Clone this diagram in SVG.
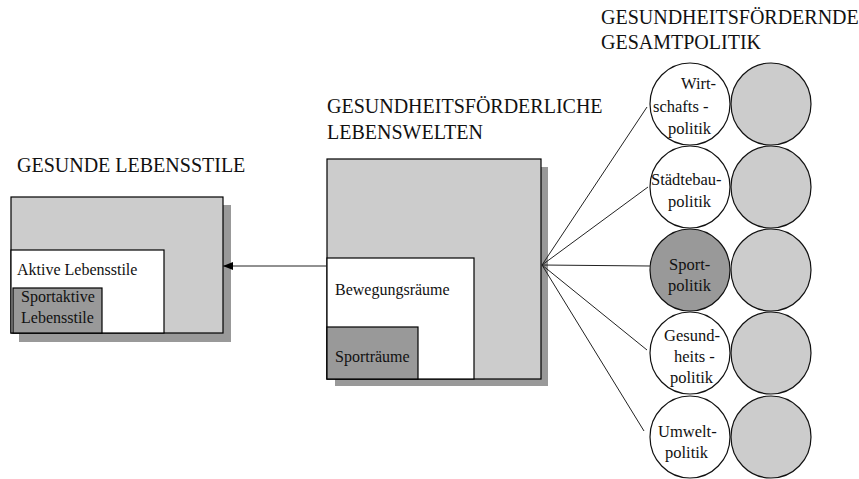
<svg xmlns="http://www.w3.org/2000/svg" width="859" height="479" viewBox="0 0 859 479" font-family="'Liberation Serif', serif">
  <defs>
    <style>
      .title { font-size: 20px; fill: #111; }
      .lbl { font-size: 16px; fill: #111; }
      .clbl { font-size: 16.5px; fill: #111; }
      .outer { fill: #cccccc; stroke: #000; stroke-width: 1.2; }
      .shadow { fill: #999999; }
      .inner { fill: #ffffff; stroke: #000; stroke-width: 1.2; }
      .dark { fill: #999999; stroke: #000; stroke-width: 1.2; }
      .circ { fill: #ffffff; stroke: #111; stroke-width: 1.2; }
      .circ-g { fill: #cccccc; stroke: #111; stroke-width: 1.2; }
      .circ-d { fill: #999999; stroke: #111; stroke-width: 1.2; }
      .link { stroke: #222; stroke-width: 1; fill: none; }
    </style>
    <marker id="arrow" viewBox="0 0 10 8" refX="10" refY="4" markerWidth="10" markerHeight="8" markerUnits="userSpaceOnUse" orient="auto">
      <path d="M0,0 L10,4 L0,8 Z" fill="#000"/>
    </marker>
  </defs>

  <!-- Healthy lifestyles -->
  <g id="lebensstile">
    <text class="title" x="17" y="172">GESUNDE LEBENSSTILE</text>
    <rect class="shadow" x="19" y="205" width="212" height="137"/>
    <rect class="outer" x="11" y="197" width="212" height="136"/>
    <rect class="inner" x="11" y="250" width="153" height="83"/>
    <text class="lbl" x="17" y="275">Aktive Lebensstile</text>
    <rect class="dark" x="13" y="288" width="89" height="45"/>
    <text class="lbl" x="21" y="302">Sportaktive</text>
    <text class="lbl" x="21" y="323">Lebensstile</text>
  </g>

  <!-- Health-promoting living environments -->
  <g id="lebenswelten">
    <text class="title" x="327" y="113">GESUNDHEITSFÖRDERLICHE</text>
    <text class="title" x="327" y="139">LEBENSWELTEN</text>
    <rect class="shadow" x="335" y="167" width="213" height="219"/>
    <rect class="outer" x="327" y="159" width="214" height="220"/>
    <rect class="inner" x="327" y="258" width="147" height="121"/>
    <text class="lbl" x="335" y="295">Bewegungsräume</text>
    <rect class="dark" x="327" y="327" width="91" height="52"/>
    <text class="lbl" x="335" y="362">Sporträume</text>
  </g>

  <!-- Overall health-promoting policy -->
  <g id="gesamtpolitik">
    <text class="title" x="601" y="24">GESUNDHEITSFÖRDERNDE</text>
    <text class="title" x="601" y="49">GESAMTPOLITIK</text>
  </g>

  <g id="wirtschaft">
    <ellipse class="circ" cx="690" cy="104" rx="40" ry="41"/>
    <ellipse class="circ-g" cx="771" cy="104" rx="40" ry="41"/>
    <text class="clbl" x="681" y="89">Wirt-</text>
    <text class="clbl" x="653" y="112">schafts -</text>
    <text class="clbl" x="668" y="134">politik</text>
  </g>

  <g id="staedtebau">
    <ellipse class="circ" cx="690" cy="187" rx="40" ry="41"/>
    <ellipse class="circ-g" cx="771" cy="187" rx="40" ry="41"/>
    <text class="clbl" x="651" y="185">Städtebau-</text>
    <text class="clbl" x="668" y="207">politik</text>
  </g>

  <g id="sport">
    <ellipse class="circ-d" cx="690" cy="270" rx="40" ry="41"/>
    <ellipse class="circ-g" cx="771" cy="270" rx="40" ry="41"/>
    <text class="clbl" x="669" y="270">Sport-</text>
    <text class="clbl" x="668" y="291">politik</text>
  </g>

  <g id="gesundheit">
    <ellipse class="circ" cx="690" cy="353" rx="40" ry="41"/>
    <ellipse class="circ-g" cx="771" cy="353" rx="40" ry="41"/>
    <text class="clbl" x="664" y="341">Gesund-</text>
    <text class="clbl" x="674" y="362">heits -</text>
    <text class="clbl" x="670" y="383">politik</text>
  </g>

  <g id="umwelt">
    <ellipse class="circ" cx="690" cy="437" rx="40" ry="41"/>
    <ellipse class="circ-g" cx="771" cy="437" rx="40" ry="41"/>
    <text class="clbl" x="658" y="437">Umwelt-</text>
    <text class="clbl" x="665" y="458">politik</text>
  </g>

  <!-- Connectors -->
  <g id="connectors">
    <line class="link" x1="327" y1="266" x2="223" y2="266" marker-end="url(#arrow)"/>
    <line class="link" x1="542" y1="265" x2="647" y2="107"/>
    <line class="link" x1="542" y1="265" x2="648" y2="187"/>
    <line class="link" x1="542" y1="265" x2="650" y2="266"/>
    <line class="link" x1="542" y1="265" x2="647" y2="350"/>
    <line class="link" x1="542" y1="265" x2="644" y2="431"/>
  </g>
</svg>
